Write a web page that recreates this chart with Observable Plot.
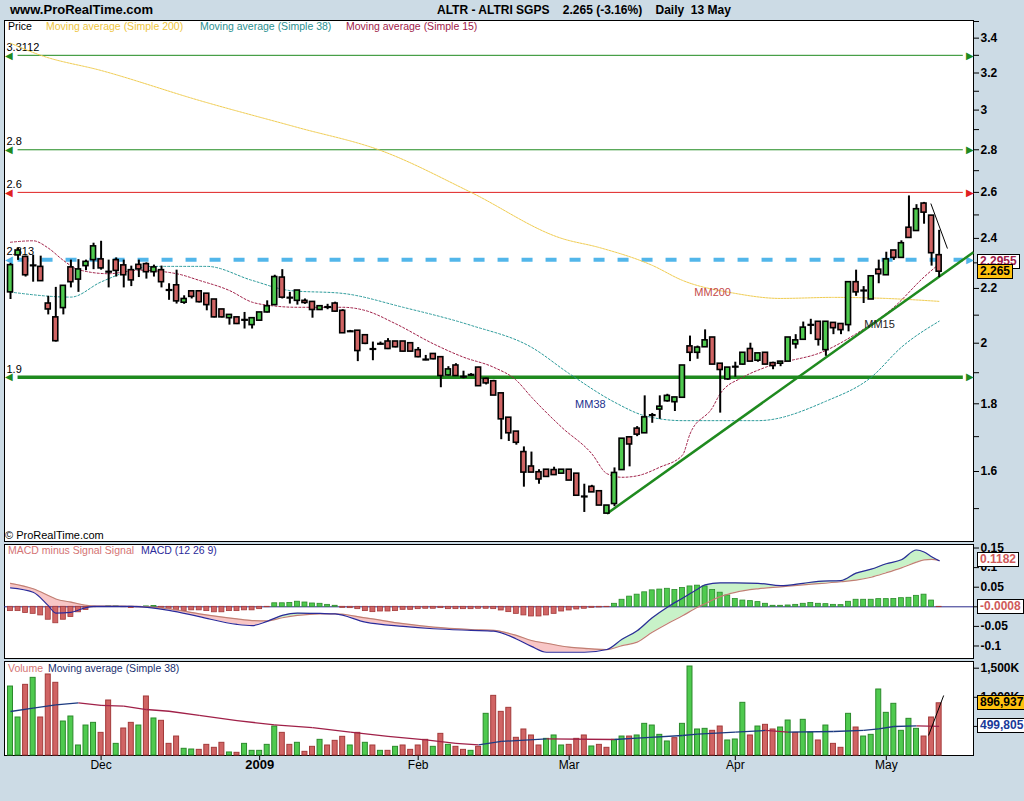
<!DOCTYPE html>
<html><head><meta charset="utf-8">
<script src="https://cdn.jsdelivr.net/npm/d3@7"></script>
<script src="https://cdn.jsdelivr.net/npm/@observablehq/plot@0.6"></script>
<style>
html,body{margin:0;padding:0;background:#ccdbe5;}
#wrap{position:relative;width:1024px;height:801px;overflow:hidden;background:#ccdbe5;font-family:"Liberation Sans",Arial,sans-serif;}
.abs{position:absolute;white-space:pre;}
.box{position:absolute;border:1px solid #000;font:bold 12px "Liberation Sans",Arial,sans-serif;padding:0 2px;line-height:13px;white-space:pre;}
.leg{position:absolute;font-size:10.5px;white-space:pre;}
</style></head><body><div id="wrap"></div>
<script>
// ---------------- DATA ----------------
const dates = [
"2008-11-13","2008-11-14","2008-11-17","2008-11-18","2008-11-19","2008-11-20","2008-11-21","2008-11-24","2008-11-25","2008-11-26","2008-11-27","2008-11-28",
"2008-12-01","2008-12-02","2008-12-03","2008-12-04","2008-12-05","2008-12-08","2008-12-09","2008-12-10","2008-12-11","2008-12-12","2008-12-15","2008-12-16","2008-12-17","2008-12-18","2008-12-19","2008-12-22","2008-12-23","2008-12-24","2008-12-29","2008-12-30","2008-12-31",
"2009-01-02","2009-01-05","2009-01-06","2009-01-07","2009-01-08","2009-01-09","2009-01-12","2009-01-13","2009-01-14","2009-01-15","2009-01-16","2009-01-19","2009-01-20","2009-01-21","2009-01-22","2009-01-23","2009-01-26","2009-01-27","2009-01-28","2009-01-29","2009-01-30",
"2009-02-02","2009-02-03","2009-02-04","2009-02-05","2009-02-06","2009-02-09","2009-02-10","2009-02-11","2009-02-12","2009-02-13","2009-02-16","2009-02-17","2009-02-18","2009-02-19","2009-02-20","2009-02-23","2009-02-24","2009-02-25","2009-02-26","2009-02-27",
"2009-03-02","2009-03-03","2009-03-04","2009-03-05","2009-03-06","2009-03-09","2009-03-10","2009-03-11","2009-03-12","2009-03-13","2009-03-16","2009-03-17","2009-03-18","2009-03-19","2009-03-20","2009-03-23","2009-03-24","2009-03-25","2009-03-26","2009-03-27","2009-03-30","2009-03-31",
"2009-04-01","2009-04-02","2009-04-03","2009-04-06","2009-04-07","2009-04-08","2009-04-09","2009-04-14","2009-04-15","2009-04-16","2009-04-17","2009-04-20","2009-04-21","2009-04-22","2009-04-23","2009-04-24","2009-04-27","2009-04-28","2009-04-29","2009-04-30",
"2009-05-04","2009-05-05","2009-05-06","2009-05-07","2009-05-08","2009-05-11","2009-05-12","2009-05-13"];

const open = [2.185,2.33,2.324,2.29,2.284,2.143,2.092,2.126,2.282,2.234,2.287,2.311,2.314,2.265,2.311,2.29,2.271,2.292,2.295,2.263,
2.271,2.194,2.212,2.146,2.189,2.189,2.18,2.158,2.121,2.089,2.092,2.083,2.064,2.08,2.11,2.137,2.242,2.165,2.153,2.153,
2.149,2.119,2.13,2.143,2.116,2.042,2.044,2.028,1.98,1.998,2.006,2.006,2.006,2.0,1.976,1.944,1.963,1.952,1.891,1.924,
1.887,1.893,1.917,1.88,1.872,1.833,1.757,1.715,1.655,1.614,1.598,1.605,1.604,1.594,1.605,1.594,1.532,1.558,1.546,1.487,
1.512,1.604,1.698,1.724,1.71,1.765,1.782,1.808,1.805,1.819,1.989,1.967,1.986,2.02,1.93,1.878,1.92,1.927,1.98,1.94,
1.967,1.932,1.93,1.937,1.996,2.012,2.065,2.076,1.976,2.072,2.068,2.064,2.224,2.192,2.158,2.273,2.251,2.35,2.32,2.445,
2.431,2.55,2.497,2.331];
const high = [2.298,2.36,2.327,2.331,2.327,2.170,2.204,2.21,2.311,2.313,2.311,2.38,2.388,2.311,2.32,2.311,2.287,2.311,2.30,2.291,
2.287,2.218,2.271,2.172,2.19,2.19,2.18,2.158,2.121,2.101,2.092,2.11,2.089,2.11,2.153,2.251,2.273,2.185,2.192,2.16,
2.15,2.135,2.14,2.148,2.12,2.045,2.044,2.03,2.004,2.004,2.016,2.006,2.006,2.0,1.985,1.958,1.963,1.952,1.92,1.93,
1.905,1.897,1.918,1.882,1.875,1.833,1.757,1.715,1.67,1.655,1.605,1.605,1.612,1.605,1.605,1.594,1.565,1.562,1.546,1.508,
1.61,1.694,1.70,1.73,1.825,1.77,1.825,1.83,1.82,1.924,2.025,1.99,2.047,2.02,1.93,1.917,1.935,1.967,2.0,1.965,
1.967,1.935,1.937,2.02,2.03,2.075,2.085,2.076,2.076,2.072,2.068,2.224,2.271,2.207,2.247,2.311,2.343,2.35,2.39,2.584,
2.545,2.555,2.497,2.434];
const low = [2.158,2.31,2.244,2.224,2.228,2.101,2.004,2.101,2.202,2.185,2.269,2.273,2.271,2.202,2.244,2.202,2.207,2.242,2.236,2.244,
2.202,2.155,2.141,2.14,2.16,2.145,2.116,2.09,2.09,2.064,2.066,2.05,2.05,2.078,2.108,2.135,2.16,2.141,2.137,2.14,
2.089,2.117,2.12,2.11,2.035,2.04,1.937,1.995,1.94,1.994,1.978,1.984,1.97,1.97,1.95,1.94,1.943,1.851,1.889,1.889,
1.88,1.889,1.856,1.86,1.826,1.691,1.686,1.675,1.557,1.597,1.565,1.585,1.59,1.594,1.575,1.534,1.49,1.543,1.508,1.487,
1.505,1.604,1.613,1.70,1.71,1.74,1.752,1.805,1.776,1.819,1.937,1.945,1.986,1.927,1.771,1.875,1.885,1.925,1.937,1.935,
1.927,1.91,1.92,1.937,1.98,2.012,2.03,1.99,1.955,2.03,2.03,2.04,2.17,2.143,2.158,2.218,2.25,2.31,2.32,2.40,
2.431,2.46,2.287,2.242];
const close = [2.291,2.35,2.251,2.29,2.228,2.121,2.007,2.21,2.224,2.274,2.304,2.367,2.278,2.265,2.268,2.251,2.231,2.274,2.263,2.282,
2.224,2.194,2.151,2.16,2.168,2.148,2.137,2.092,2.092,2.101,2.068,2.083,2.089,2.11,2.133,2.244,2.165,2.165,2.192,2.145,
2.119,2.133,2.13,2.113,2.035,2.042,1.973,1.998,1.98,1.998,1.98,1.986,1.971,1.971,1.952,1.944,1.945,1.889,1.911,1.889,
1.887,1.893,1.856,1.865,1.826,1.752,1.71,1.682,1.597,1.597,1.578,1.585,1.59,1.605,1.575,1.534,1.532,1.543,1.508,1.508,
1.596,1.694,1.677,1.706,1.758,1.765,1.791,1.825,1.82,1.924,1.967,1.985,2.01,1.927,1.909,1.917,1.92,1.967,1.937,1.965,
1.927,1.922,1.937,2.02,2.01,2.055,2.065,2.012,2.076,2.053,2.046,2.224,2.185,2.192,2.247,2.255,2.314,2.32,2.38,2.402,
2.525,2.51,2.339,2.265];

// volume in thousands
const volume = [1185,653,1214,1334,653,1392,1249,584,670,172,515,561,389,945,200,464,561,515,1014,636,
596,200,326,115,103,97,183,132,218,52,46,200,80,80,183,498,389,183,218,63,
149,269,172,252,321,172,389,218,172,80,80,149,172,97,172,269,149,372,183,149,
97,80,149,716,1025,750,819,304,447,344,172,286,344,172,183,286,344,155,183,132,
269,326,326,344,544,515,355,241,298,544,1529,447,458,424,498,258,275,905,344,498,
527,447,481,601,389,613,395,258,515,200,132,716,481,326,355,1134,733,888,424,630,
458,326,653,896.937];

const macdHist = [-0.011,-0.011,-0.016,-0.018,-0.022,-0.033,-0.042,-0.033,-0.026,-0.014,
-0.008,-0.001,0,0.001,0.001,-0.001,-0.003,-0.001,0.001,0.002,
-0.003,-0.005,-0.009,-0.011,-0.009,-0.009,-0.011,-0.014,-0.014,-0.011,
-0.011,-0.009,-0.009,-0.006,-0.001,0.009,0.009,0.010,0.013,0.011,
0.0085,0.0077,0.005,0.0026,-0.0026,-0.0034,-0.006,-0.011,-0.0136,-0.012,
-0.012,-0.011,-0.0077,-0.0077,-0.006,-0.005,-0.005,-0.0034,-0.006,-0.006,
-0.006,-0.006,-0.005,-0.005,-0.006,-0.0094,-0.0136,-0.018,-0.022,-0.0247,
-0.0247,-0.022,-0.018,-0.012,-0.0094,-0.0068,-0.005,-0.0026,-0.0017,-0.0009,
0.0077,0.018,0.026,0.031,0.037,0.042,0.044,0.046,0.043,0.048,
0.052,0.054,0.052,0.043,0.036,0.029,0.020,0.016,0.0145,0.012,
0.0077,0.0026,0.0026,0.0034,0.005,0.0077,0.010,0.0077,0.0068,0.005,
0.0043,0.0128,0.018,0.018,0.018,0.0196,0.0196,0.020,0.022,0.023,
0.028,0.031,0.016,-0.0008];

const macdIdx = [0,3,5,6,8,10,11,16,21,25,30,32,34,36,38,41,43,47,52,56,61,64,67,69,71,74,76,79,81,83,85,87,89,91,92,94,96,99,102,105,107,110,112,114,116,118,120,121,122,123];
const macdLine = [0.0485,0.037,0.003,-0.016,-0.014,-0.002,0.001,0.001,-0.009,-0.025,-0.045,-0.048,-0.037,-0.022,-0.016,-0.017,-0.018,-0.039,-0.050,-0.056,-0.060,-0.062,-0.082,-0.101,-0.116,-0.116,-0.116,-0.109,-0.083,-0.061,-0.028,-0.001,0.022,0.045,0.056,0.061,0.061,0.060,0.054,0.060,0.065,0.067,0.086,0.096,0.110,0.120,0.145,0.140,0.128,0.1174];
const signalLine = [0.060,0.046,0.029,0.020,0.012,0.004,0.002,0.001,-0.005,-0.018,-0.031,-0.035,-0.036,-0.028,-0.022,-0.018,-0.018,-0.028,-0.043,-0.052,-0.058,-0.060,-0.073,-0.086,-0.093,-0.103,-0.106,-0.109,-0.099,-0.090,-0.065,-0.043,-0.023,-0.001,0.008,0.026,0.037,0.046,0.051,0.056,0.059,0.064,0.068,0.0755,0.087,0.0995,0.114,0.120,0.121,0.1182];

const ma200Idx = [0,4,12,25,38,49,61,73,78,85,89,96,102,109,116,123];
const ma200 = [3.37,3.30,3.214,3.051,2.911,2.797,2.60,2.40,2.362,2.29,2.231,2.181,2.162,2.166,2.162,2.151];
const ma38Idx = [0,8,12,19,26,32,37,44,52,61,69,74,80,84,89,99,108,114,118,123];
const ma38 = [2.186,2.167,2.225,2.286,2.286,2.231,2.192,2.181,2.129,2.063,1.986,1.897,1.805,1.763,1.748,1.748,1.808,1.885,1.986,2.078];
const ma15Idx = [0,3,5,7,9,13,17,22,25,29,32,34,38,44,47,51,56,60,64,67,69,73,77,79,81,83,86,89,90,93,94,97,100,108,112,117,121,123];
const ma15 = [2.384,2.39,2.36,2.31,2.273,2.257,2.271,2.257,2.231,2.192,2.148,2.137,2.129,2.129,2.117,2.069,1.998,1.952,1.918,1.875,1.821,1.728,1.650,1.594,1.584,1.588,1.612,1.646,1.708,1.789,1.832,1.885,1.918,1.975,2.033,2.129,2.244,2.2955];

const volMaIdx = [0,3,6,9,12,15,18,21,25,30,35,40,45,50,55,59,62,65,71,80,83,89,91,96,100,103,109,113,115,117,120,123];
const volMa = [756,813,870,905,860,848,790,760,690,600,525,480,400,330,270,210,183,241,286,275,298,344,367,401,430,401,412,430,458,498,510,499.805];

const levelValues = [3.300, 2.8, 2.6, 2.313, 1.885];
const levelLabels = ["3.3112", "2.8", "2.6", "2.313", "1.9"];
const trendFrom = {i: 79, v: 1.487};
const trendTo = {i: 127.55, v: 2.343};

const priceTicks = [3.4,3.2,3,2.8,2.6,2.4,2.2,2,1.8,1.6];
const priceMinorTicks = [3.5,3.3,3.1,2.9,2.7,2.5,2.3,2.1,1.9,1.7,1.5];
const macdTicks = [0.15,0.1,0.05,0,-0.05,-0.1];
const macdTickLabels = ["0.15","0.1","0.05","","-0.05","-0.1"];
const volTicks = [500,1000,1500];
const volTickLabels = ["","1,000K","1,500K"];
const monthNames = ["Jan","Feb","Mar","Apr","May","Jun","Jul","Aug","Sep","Oct","Nov","Dec"];

// ---------------- STYLES ----------------
const GREEN = "#4fca4f", RED = "#d06464", GREEN_D = "#2b8a2b", RED_D = "#a33a3a";
const LEVEL_STYLE = [
  {color:"#1f8a1f", w:1, dash:null},
  {color:"#1f8a1f", w:1, dash:null},
  {color:"#e02020", w:1, dash:null},
  {color:"#52b6ea", w:4, dash:"11,13"},
  {color:"#1f8a1f", w:3.5, dash:null}
];
const FONT = "Liberation Sans, Arial, sans-serif";
const W = 1024;
const xDomain = [-0.795, 127.55];
const xRange = [4, 973];

const wrap = document.getElementById("wrap");
function place(el, top){ el.style.position="absolute"; el.style.left="0px"; el.style.top=top+"px"; wrap.appendChild(el); }
function div(cls, left, top, text, css){ const d=document.createElement("div"); d.className=cls; d.style.left=left+"px"; d.style.top=top+"px"; d.textContent=text; if(css) Object.assign(d.style, css); wrap.appendChild(d); return d; }

// ---------------- PRICE PANEL ----------------
const candles = dates.map((d,i)=>({i, date:d, o:open[i], h:high[i], l:low[i], c:close[i]}));
const levels = levelValues.map((v,k)=>({v, label:levelLabels[k], ...LEVEL_STYLE[k]}));
const line = (idx, vals) => idx.map((i,k)=>({i, v:vals[k]}));

const priceTop = 19;
const pricePlot = Plot.plot({
  width: W, height: 523, marginTop: 1, marginBottom: 1, marginLeft: 4, marginRight: 51,
  x: {domain: xDomain, range: xRange, axis: null},
  y: {type: "log", domain: [1.4166, 3.506], axis: null},
  style: {fontFamily: FONT, fontSize: "12px", color: "black", background: "transparent", overflow: "visible"},
  marks: [
    Plot.frame({fill: "white", stroke: "black"}),
    Plot.axisY(priceTicks, {anchor: "right", tickSize: 5, tickPadding: 2, tickFormat: d => String(d), fontWeight: "bold", fontSize: 12}),
    Plot.axisY(priceMinorTicks, {anchor: "right", tickSize: 5, tickFormat: () => ""}),
    // level lines
    ...levels.map(l => Plot.ruleY([l.v], {x1: 1.0, x2: 126.2, stroke: l.color, strokeWidth: l.w, strokeDasharray: l.dash})),
    Plot.text(levels, {x: xDomain[0], y: "v", text: () => "\u25C0", fill: "color", textAnchor: "start", fontSize: 10, dx: 0}),
    Plot.text(levels, {x: xDomain[1], y: "v", text: () => "\u25B6", fill: "color", textAnchor: "end", fontSize: 10, dx: 0}),
    Plot.text(levels, {x: xDomain[0], y: "v", text: "label", fill: "black", textAnchor: "start", fontSize: 11, dx: 2, dy: -8}),
    // moving averages
    Plot.line(line(ma200Idx, ma200), {x: "i", y: "v", stroke: "#f0cc50", strokeWidth: 1, strokeDasharray: "2,1", curve: "monotone-x"}),
    Plot.line(line(ma38Idx, ma38), {x: "i", y: "v", stroke: "#2a9a9a", strokeWidth: 1, strokeDasharray: "2,2", curve: "monotone-x"}),
    Plot.line(line(ma15Idx, ma15), {x: "i", y: "v", stroke: "#a02048", strokeWidth: 1, strokeDasharray: "2,2", curve: "monotone-x"}),
    // trend line
    Plot.link([{}], {x1: trendFrom.i, y1: trendFrom.v, x2: trendTo.i, y2: trendTo.v, stroke: "#1f8a1f", strokeWidth: 2.5}),
    // candles
    Plot.ruleX(candles, {x: "i", y1: "l", y2: "h", stroke: "black", strokeWidth: 2}),
    Plot.rect(candles.filter(d => d.o !== d.c), {x1: d => d.i - 0.33, x2: d => d.i + 0.33, y1: "o", y2: "c",
      fill: d => d.c > d.o ? GREEN : RED, stroke: "black", strokeWidth: 1.6}),
    Plot.link(candles.filter(d => d.o === d.c), {x1: d => d.i - 0.45, x2: d => d.i + 0.45, y1: "c", y2: "c", stroke: "black", strokeWidth: 2.2}),
    // annotation stroke
    Plot.link([{}], {x1: 121.9, y1: 2.55, x2: 124.1, y2: 2.358, stroke: "black", strokeWidth: 1}),
    // MA labels
    Plot.text([{i: 93, v: 2.185, t: "MM200"}], {x: "i", y: "v", text: "t", fill: "#c44a4a", fontSize: 11}),
    Plot.text([{i: 76.8, v: 1.798, t: "MM38"}], {x: "i", y: "v", text: "t", fill: "#22308e", fontSize: 11}),
    Plot.text([{i: 115.1, v: 2.066, t: "MM15"}], {x: "i", y: "v", text: "t", fill: "#222", fontSize: 11})
  ]
});
place(pricePlot, priceTop);

// ---------------- MACD PANEL ----------------
const macdTop = 543;
const macdData = macdIdx.map((i,k)=>({i, m: macdLine[k], s: signalLine[k]}));
const hist = macdHist.map((h,i)=>({i, h}));
const macdPlot = Plot.plot({
  width: W, height: 116, marginTop: 1, marginBottom: 1, marginLeft: 4, marginRight: 51,
  x: {domain: xDomain, range: xRange, axis: null},
  y: {domain: [-0.1319, 0.159], axis: null},
  style: {fontFamily: FONT, fontSize: "12px", color: "black", background: "transparent", overflow: "visible"},
  marks: [
    Plot.frame({fill: "white", stroke: "black"}),
    Plot.axisY(macdTicks, {anchor: "right", tickSize: 5, tickPadding: 2, tickFormat: d => macdTickLabels[macdTicks.indexOf(d)], fontWeight: "bold", fontSize: 12}),
    Plot.areaY(macdData, {x: "i", y1: "s", y2: d => Math.min(d.m, d.s), fill: "#f8c6c6", curve: "monotone-x"}),
    Plot.areaY(macdData, {x: "i", y1: "s", y2: d => Math.max(d.m, d.s), fill: "#c8f2c8", curve: "monotone-x"}),
    Plot.ruleY([0], {stroke: "#2a2a8a", strokeWidth: 1}),
    Plot.rect(hist.filter(d => Math.abs(d.h) > 0.0005), {x1: d => d.i - 0.33, x2: d => d.i + 0.33, y1: 0, y2: "h",
      fill: d => d.h >= 0 ? GREEN : RED, stroke: d => d.h >= 0 ? GREEN_D : RED_D, strokeWidth: 0.8}),
    Plot.line(macdData, {x: "i", y: "s", stroke: "#c08074", strokeWidth: 1.2, curve: "monotone-x"}),
    Plot.line(macdData, {x: "i", y: "m", stroke: "#2a2a9a", strokeWidth: 1.2, curve: "monotone-x"})
  ]
});
place(macdPlot, macdTop);

// ---------------- VOLUME PANEL ----------------
const volTop = 660;
const vols = volume.map((v,i)=>({i, v, up: i === 0 ? true : close[i] > close[i-1]}));
const vm = volMaIdx.map((i,k)=>({i, v: volMa[k]}));
const vmSeg = vm.slice(1).map((d,k)=>({x1: vm[k].i, y1: vm[k].v, x2: d.i, y2: d.v}));
const monthTicks = dates.map((d,i)=>({i, d})).filter(({i,d}) => i > 0 && d.slice(5,7) !== dates[i-1].slice(5,7))
  .map(({i,d}) => {const m = +d.slice(5,7) - 1; return {i, label: m === 0 ? d.slice(0,4) : monthNames[m], year: m === 0};});
const volPlot = Plot.plot({
  width: W, height: 141, marginTop: 1, marginBottom: 46, marginLeft: 4, marginRight: 51,
  x: {domain: xDomain, range: xRange, axis: null},
  y: {domain: [0, 1615], axis: null},
  style: {fontFamily: FONT, fontSize: "12px", color: "black", background: "transparent", overflow: "visible"},
  marks: [
    Plot.frame({fill: "white", stroke: "black"}),
    Plot.axisY(volTicks, {anchor: "right", tickSize: 5, tickPadding: 2, tickFormat: d => volTickLabels[volTicks.indexOf(d)], fontWeight: "bold", fontSize: 12}),
    Plot.axisX(monthTicks.map(d => d.i), {anchor: "bottom", tickSize: 5, tickFormat: () => ""}),
    Plot.text(monthTicks.filter(d => !d.year), {x: "i", frameAnchor: "bottom", dy: 13, text: "label", fontSize: 12}),
    Plot.text(monthTicks.filter(d => d.year), {x: "i", frameAnchor: "bottom", dy: 13, text: "label", fontSize: 13, fontWeight: "bold"}),
    Plot.rect(vols, {x1: d => d.i - 0.33, x2: d => d.i + 0.33, y1: 0, y2: "v",
      fill: d => d.up ? GREEN : RED, stroke: d => d.up ? GREEN_D : RED_D, strokeWidth: 1}),
    Plot.link(vmSeg, {x1: "x1", y1: "y1", x2: "x2", y2: "y2", stroke: d => d.y2 >= d.y1 ? "#1c3a80" : "#a02048", strokeWidth: 1.3}),
    Plot.link([{}], {x1: 121.6, y1: 344, x2: 123.6, y2: 1031, stroke: "black", strokeWidth: 1})
  ]
});
place(volPlot, volTop);

// ---------------- TEXT / LEGENDS ----------------
div("abs", 10, 2, "www.ProRealTime.com", {font: "bold 13px " + FONT, color: "#000"});
div("abs", 437, 3, "ALTR - ALTRI SGPS    2.265 (-3.16%)    Daily  13 May", {font: "bold 12px " + FONT, color: "#000"});
div("leg", 8, 20, "Price", {color: "#000"});
div("leg", 46, 20, "Moving average (Simple 200)", {color: "#eec43c"});
div("leg", 200, 20, "Moving average (Simple 38)", {color: "#2a9090"});
div("leg", 346, 20, "Moving average (Simple 15)", {color: "#a0204a"});
div("abs", 5, 529, "\u00A9 ProRealTime.com", {font: "11px " + FONT, color: "#000"});
div("leg", 8, 544, "MACD minus Signal Signal", {color: "#d47474"});
div("leg", 141, 544, "MACD (12 26 9)", {color: "#2a2a9a"});
div("leg", 8, 662, "Volume", {color: "#d47474"});
div("leg", 48, 662, "Moving average (Simple 38)", {color: "#1a3070"});

// value boxes positioned through the plots' scales
const py = v => priceTop + pricePlot.scale("y").apply(v);
const my = v => macdTop + macdPlot.scale("y").apply(v);
const vy = v => volTop + volPlot.scale("y").apply(v);
div("box", 977, py(ma15[ma15.length-1]) - 9, "2.2955", {background: "#fff", color: "#a0204a"});
div("box", 977, py(close[close.length-1]) - 7, "2.265", {background: "#ffc20e", color: "#000"});
div("box", 977, my(signalLine[signalLine.length-1]) - 8, "0.1182", {background: "#fff", color: "#d05a5a"});
div("box", 977, my(macdHist[macdHist.length-1]) - 8, "-0.0008", {background: "#fff", color: "#d05a5a"});
div("box", 977, vy(volume[volume.length-1]) - 8, "896,937", {background: "#ffc20e", color: "#000"});
div("box", 977, vy(volMa[volMa.length-1]) - 8, "499,805", {background: "#fff", color: "#1a3a9a"});
</script></body></html>
